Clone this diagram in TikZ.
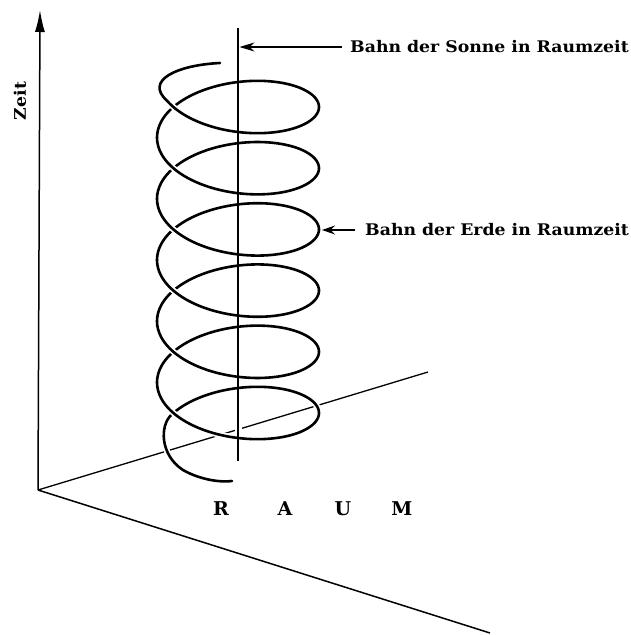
\documentclass[tikz,border=0pt]{standalone}
\usepackage{fontspec}
\setmainfont{DejaVu Serif}
\usetikzlibrary{arrows.meta}
\newcommand{\widetxt}[1]{\scalebox{1.08}[1]{#1}}
\begin{document}
\begin{tikzpicture}[x=1pt,y=-1pt,
  lbl/.style={font=\bfseries\fontsize{16}{18}\selectfont, inner sep=0pt},
  raum/.style={font=\bfseries\fontsize{19}{20}\selectfont, inner sep=0pt},
  helix/.style={line width=2.6pt, line cap=round},
  hid/.style={preaction={draw=white, line width=6pt, line cap=butt, shorten <=2pt, shorten >=2pt}},
  axisline/.style={line width=1.5pt},
  ptr/.style={line width=1.4pt}]
\useasboundingbox (0,0) rectangle (631,635);
% axes
\coordinate (O) at (38,490);
\coordinate (Z) at (40,10);
\coordinate (B) at (428,372);
\coordinate (F) at (490,633);
\coordinate (St) at (238,28);
\coordinate (Sb) at (238,461);
\draw[axisline,-{Latex[length=22pt,width=10pt]}] (O) -- (Z);
\draw[axisline] (O) -- (F);
\draw[line width=1.3pt] (O) -- (B);
% sun line (cuts the back axis)
\draw[line width=2.4pt, preaction={draw=white, line width=7pt}] (St) -- (Sb);
% back arcs of the helix
\foreach \a/\b in {3.1416/6.2832, 9.4248/12.5664, 15.708/18.8496, 21.9911/25.1327, 28.2743/31.4159}
  \draw[helix,hid] plot[domain=\a:\b, samples=40, smooth, variable=\t]
     ({238-81*cos(\t r)}, {76.4+9.74*\t+40.3*sin(\t r)});
\draw[helix,hid] plot[domain=34.5575:37.0991, samples=40, smooth, variable=\t]
     ({238-81*cos(\t r)}, {76.4+9.74*\t+40.3*sin(\t r)})
     .. controls (159.7,425.8) and (160,455) .. (183,470)
     .. controls (195,477) and (215,483) .. (232,481);
% front arcs of the helix
\draw[helix,hid] (220,63) .. controls (178,65) and (144,80) .. (166.9,100.6)
     -- plot[domain=0.5:3.1416, samples=40, smooth, variable=\t]
     ({238-81*cos(\t r)}, {76.4+9.74*\t+40.3*sin(\t r)});
\foreach \a/\b in {6.2832/9.4248, 12.5664/15.708, 18.8496/21.9911, 25.1327/28.2743, 31.4159/34.5575}
  \draw[helix,hid] plot[domain=\a:\b, samples=40, smooth, variable=\t]
     ({238-81*cos(\t r)}, {76.4+9.74*\t+40.3*sin(\t r)});
% sun line on top
\draw[line width=2.4pt] (St) -- (Sb);
% labels
\node[lbl, rotate=90] (zeit) at (20,101) {\widetxt{Zeit}};
\node[lbl, anchor=west] (sonne) at (350,47) {\widetxt{Bahn der Sonne in Raumzeit}};
\node[lbl, anchor=west] (erde) at (365,230) {\widetxt{Bahn der Erde in Raumzeit}};
\coordinate (sa) at (239.5,47);
\coordinate (ea) at (322,230);
\draw[ptr, shorten <=8pt, -{Stealth[length=15pt,width=9pt]}] (sonne.west) -- (sa);
\draw[ptr, shorten <=10pt, -{Stealth[length=13pt,width=9pt]}] (erde.west) -- (ea);
\node[raum] (r) at (221,509) {R};
\node[raum] (a) at (285,509) {A};
\node[raum] (u) at (343,509) {U};
\node[raum] (m) at (402,509) {M};
\end{tikzpicture}
\end{document}
